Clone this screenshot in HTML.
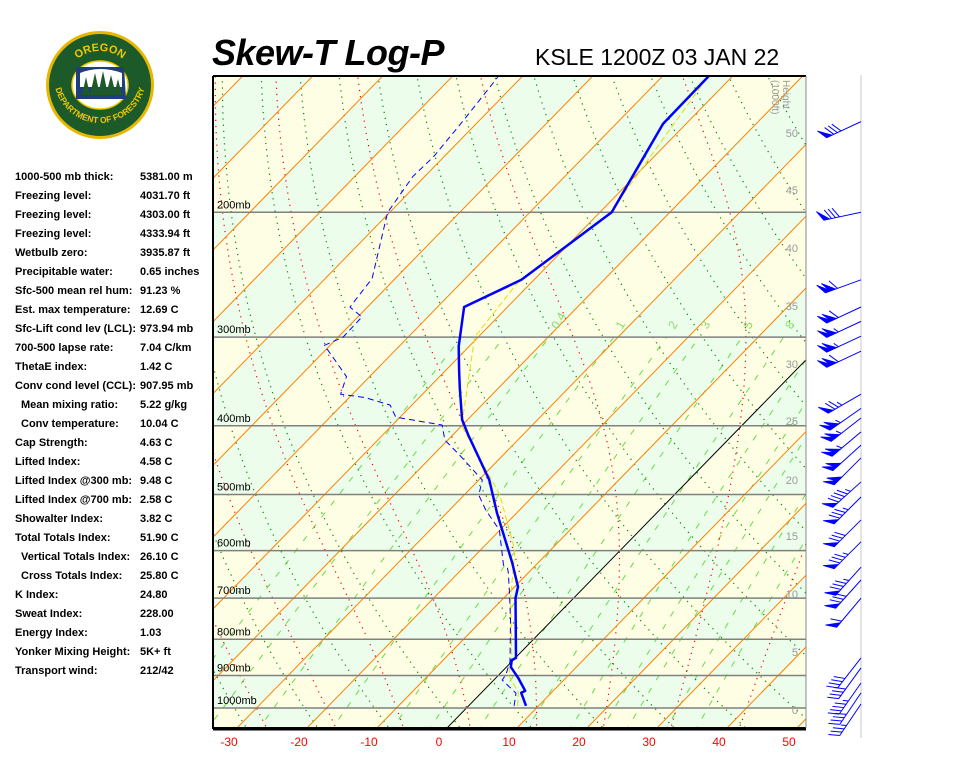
<!DOCTYPE html>
<html><head><meta charset="utf-8">
<style>
body{margin:0;background:#fff;width:960px;height:768px;overflow:hidden;position:relative;font-family:"Liberation Sans",Arial,sans-serif}
.tbl{position:absolute;left:15px;top:171px;font-size:11px;font-weight:bold;color:#000}
.row{position:absolute;white-space:nowrap;height:19px;width:200px}
.row .l{position:absolute;left:0}
.row .v{position:absolute;left:125px}
</style></head><body>
<svg width="120" height="120" style="position:absolute;left:40px;top:25px" viewBox="0 0 120 120">
<defs><path id="arcTop" d="M24,62 A36,36 0 0 1 96,62"/><path id="arcBot" d="M14,52 A46,46 0 0 0 106,52"/></defs>
<circle cx="60" cy="60" r="54" fill="#e8b800"/>
<circle cx="60" cy="60" r="51" fill="#1d5a2a"/>
<text font-size="11" font-weight="bold" fill="#f0c800" font-family="Liberation Sans,sans-serif"><textPath href="#arcTop" startOffset="50%" text-anchor="middle">OREGON</textPath></text>
<text font-size="8.5" font-weight="bold" fill="#f0c800" font-family="Liberation Sans,sans-serif"><textPath href="#arcBot" startOffset="50%" text-anchor="middle">DEPARTMENT OF FORESTRY</textPath></text>
<ellipse cx="60" cy="60" rx="28" ry="24" fill="#fff" stroke="#f0c800" stroke-width="1.5"/>
<path d="M36,42 L84,42 L86,74 L36,74 Z" fill="#1f3f7a"/>
<path d="M40,48 Q60,40 82,48 L82,62 L40,62Z" fill="#fff"/>
<path d="M42,70 L46,52 L50,70 Z M50,70 L55,48 L60,70Z M58,70 L63,46 L68,70Z M66,70 L71,50 L76,70Z M74,70 L78,54 L82,70Z" fill="#1e5a28"/>
</svg>
<div style="position:absolute;left:212px;top:32px;font-size:36px;font-weight:bold;font-style:italic;letter-spacing:-0.5px">Skew-T Log-P</div>
<div style="position:absolute;left:535px;top:44px;font-size:23px">KSLE 1200Z 03 JAN 22</div>
<div class="tbl" id="tbl"></div>
<svg id="ch" width="960" height="768" style="position:absolute;left:0;top:0"></svg>
<script>
const idxLabels=["1000-500 mb thick:","Freezing level:","Freezing level:","Freezing level:","Wetbulb zero:","Precipitable water:","Sfc-500 mean rel hum:","Est. max temperature:","Sfc-Lift cond lev (LCL):","700-500 lapse rate:","ThetaE index:","Conv cond level (CCL):"," Mean mixing ratio:"," Conv temperature:","Cap Strength:","Lifted Index:","Lifted Index @300 mb:","Lifted Index @700 mb:","Showalter Index:","Total Totals Index:"," Vertical Totals Index:"," Cross Totals Index:","K Index:","Sweat Index:","Energy Index:","Yonker Mixing Height:","Transport wind:"];
const idxValues=["5381.00 m","4031.70 ft","4303.00 ft","4333.94 ft","3935.87 ft","0.65 inches","91.23 %","12.69 C","973.94 mb","7.04 C/km","1.42 C","907.95 mb","5.22 g/kg","10.04 C","4.63 C","4.58 C","9.48 C","2.58 C","3.82 C","51.90 C","26.10 C","25.80 C","24.80","228.00","1.03","5K+ ft","212/42"];
// sounding data
const tempP=[993,952,946,907,875,856,850,700,675,624,531,477,412,392,354,334,309,272,249,200,150,128];
const tempT=[8.2,5.7,6.0,3.2,0.6,-0.2,0.1,-8.3,-9.5,-13.7,-22.8,-28.5,-37.8,-40.8,-45.5,-48.1,-51.5,-56.2,-51.8,-48.3,-53.3,-53.4];
const dewP=[993,953,913,898,861,751,688,644,634,629,561,526,501,477,440,419,399,389,374,365,361,341,308,300,281,272,248,207,200,178,167,148,129];
const dewT=[6.5,5.0,1.2,1.0,-0.2,-6.0,-9.9,-12.9,-13.7,-14.6,-20.1,-24.8,-27.9,-29.5,-36.2,-40.4,-42.9,-50.6,-53.1,-57.7,-61.7,-63.3,-70.8,-69.3,-69.4,-72.5,-73.3,-79.2,-80.3,-81.7,-81.5,-82.3,-83.4];
const wbP=[993,950,900,850,700,600,500,400,300,250,200,128];
const wbT=[7.0,5.2,1.5,-0.5,-9,-15,-25,-40,-50.5,-52,-48.5,-53.5];
const windP=[149,200,249,272,285,299,314,361,378,390,408,426,444,480,504,543,583,633,660,700,850,878,922,952,987];
const windDir=[245,258,250,245,245,245,245,240,235,232,230,228,225,228,225,225,225,222,222,220,218,216,215,214,214];
const windSpd=[80,80,110,110,105,105,110,75,105,105,105,100,100,95,85,80,85,85,80,60,40,40,45,40,35];
const pLevels=[1000,900,800,700,600,500,400,300,200];
const tempTicks=[-30,-20,-10,0,10,20,30,40,50];
const heightTicks=[0,5,10,15,20,25,30,35,40,45,50];
const heightY=[710,652,594,536,480,421,364,306,248,190,133];
const mixW=[0.1,0.2,0.4,1,2,3,5,8,12,16,20,28,36];
const mixLabels=["0.4","1","2","3","5","8"];
const mixLabelW=[0.4,1,2,3,5,8];

const tb=document.getElementById('tbl');
idxLabels.forEach((l,i)=>{const r=document.createElement('div');r.className='row';r.style.top=(i*19)+'px';


const a=document.createElement('span');a.className='l';a.textContent=l.trim();if(l[0]===' ')a.style.left='6px';
const b=document.createElement('span');b.className='v';b.textContent=idxValues[i];r.appendChild(a);r.appendChild(b);tb.appendChild(r);});

const NS='http://www.w3.org/2000/svg';
const svg=document.getElementById('ch');
const L=213,R=806,T0=76,B=728;
function Y(p){return 708+308*Math.log(p/1000);}
function X(t,p){return 447+7*t+(B-Y(p))*0.975;}
function el(tag,attrs,parent){const e=document.createElementNS(NS,tag);for(const k in attrs)e.setAttribute(k,attrs[k]);(parent||svg).appendChild(e);return e;}
const defs=el('defs',{});const cp=el('clipPath',{id:'clip'},defs);el('rect',{x:L,y:T0,width:R-L,height:B-T0},cp);
const g=el('g',{'clip-path':'url(#clip)'});


const rows=[1100,1000,900,800,700,600,500,400,300,200,100];
for(let r=0;r<rows.length-1;r++){const p1=rows[r],p2=rows[r+1];
 for(let k=-22;k<8;k++){const t1=k*10,t2=t1+10;
  const pts=[[X(t1,p1),Y(p1)],[X(t2,p1),Y(p1)],[X(t2,p2),Y(p2)],[X(t1,p2),Y(p2)]].map(a=>a.join(',')).join(' ');
  const c=el('polygon',{points:pts,fill:((k+r)%2!==0)?'#ecfdec':'#fefee4'},g);
  
  }}
function poly(pts,attrs,name){const e=el('polyline',Object.assign({points:pts.map(a=>a[0].toFixed(1)+','+a[1].toFixed(1)).join(' '),fill:'none'},attrs),g);
 
 return e;}
function tdFromW(w,p){const e=w*p/(622+w);const l=Math.log(e/6.112);return 243.5*l/(17.67-l);}
mixW.forEach(w=>{const pts=[];for(let p=1080;p>=300;p-=10)pts.push([X(tdFromW(w,p),p),Y(p)]);poly(pts,{stroke:'#66dd44','stroke-width':1,'stroke-dasharray':'6,9'},'mixing-ratio-line');});
for(let th=230;th<=480;th+=10){const pts=[];for(let p=1080;p>=120;p-=10){const t=th*Math.pow(p/1000,0.2857)-273.15;pts.push([X(t,p),Y(p)]);}poly(pts,{stroke:'#008800','stroke-width':1.2,'stroke-dasharray':'1.2,5'},'dry-adiabat');}
function es(tc){return 6.112*Math.exp(17.67*tc/(tc+243.5));}
function dTdp(Tk,p){const tc=Tk-273.15;const e=es(tc);const rs=0.622*e/(p-e);return (287*Tk+2.5e6*rs)/(p*(1005+2.5e6*2.5e6*rs*0.622/(287*Tk*Tk)));}
for(let t0=-40;t0<=50;t0+=10){let Tk=t0+273.15;const up=[];for(let p=1000;p>=120;p-=2){if(p%10===0)up.push([X(Tk-273.15,p),Y(p)]);Tk-=dTdp(Tk,p)*2;}
 Tk=t0+273.15;const dn=[];for(let p=1000;p<=1080;p+=2){if(p%10===0)dn.unshift([X(Tk-273.15,p),Y(p)]);Tk+=dTdp(Tk,p)*2;}
 poly(dn.concat(up),{stroke:'#ff0000','stroke-width':1.2,'stroke-dasharray':'1.2,5'},'moist-adiabat');}
for(let t=-150;t<=60;t+=10){const e=el('line',{x1:X(t,1100),y1:Y(1100),x2:X(t,100),y2:Y(100),stroke:t===0?'#000':'#ff8000','stroke-width':1},g);
 
 }
pLevels.forEach(p=>{const e=el('line',{x1:L,x2:R,y1:Y(p),y2:Y(p),stroke:'#808080','stroke-width':1.5},g);
 
 
 const t=el('text',{x:217,y:Y(p)-4,'font-size':11,fill:'#000'},g);t.textContent=p+'mb';
 
 });
mixLabelW.forEach((w,i)=>{const p=293;const x=X(tdFromW(w,p),p);const t=el('text',{x:0,y:0,'font-size':12,fill:'#88dd66',transform:`translate(${x+3},${Y(p)}) rotate(-60)`},g);t.textContent=mixLabels[i];
 
 });
heightTicks.forEach((h,i)=>{const t=el('text',{x:798,y:heightY[i]+4,'font-size':11,fill:'#999','text-anchor':'end'},g);t.textContent=h;
 
 });
const ht=el('text',{x:0,y:0,'font-size':10,fill:'#999',transform:'translate(783,80) rotate(90)'},g);ht.textContent='Height';


const ht2=el('text',{x:0,y:0,'font-size':10,fill:'#999',transform:'translate(772,80) rotate(90)'},g);ht2.textContent='(1000ft)';


poly(wbP.map((p,i)=>[X(wbT[i],p),Y(p)]),{stroke:'#e0e000','stroke-width':1,'stroke-dasharray':'6,3'},'wetbulb-line');
poly(dewP.map((p,i)=>[X(dewT[i],p),Y(p)]),{stroke:'#0000ff','stroke-width':1,'stroke-dasharray':'6,4'},'dewpoint-line');
poly(tempP.map((p,i)=>[X(tempT[i],p),Y(p)]),{stroke:'#0000ff','stroke-width':2.5,'stroke-linejoin':'round'},'temperature-line');
const fr=el('path',{d:`M${L},${T0} H${R} M${L},${T0} V${B} H${R}`,stroke:'#000','stroke-width':2,fill:'none'});


el('line',{x1:L,x2:R,y1:B+1,y2:B+1,stroke:'#000','stroke-width':3});
el('line',{x1:R,x2:R,y1:T0,y2:B,stroke:'#888','stroke-width':1});
tempTicks.forEach(t=>{const x=447+7*t;const e=el('text',{x:x-8,y:746,'font-size':12,fill:'#ff0000','text-anchor':'middle'});e.textContent=t;
 
 });
// wind barbs
el('line',{x1:861,x2:861,y1:75,y2:738,stroke:'#e4e4e4','stroke-width':2});
windP.forEach((p,i)=>{const ax=861,ay=Y(p);const d=windDir[i]*Math.PI/180;const ux=Math.sin(d),uy=-Math.cos(d);
 const len=38;const tx=ax+ux*len,ty=ay+uy*len;
 const wg=el('g',{});
 
 
 el('line',{x1:ax,y1:ay,x2:tx,y2:ty,stroke:'#0000ff','stroke-width':1},wg);
 let bx=uy,by=-ux;if(by>0){bx=-bx;by=-by;}
 const vx=ux*5.5+bx*10,vy=uy*5.5+by*10;
 let s=windSpd[i];let pos=0;
 while(s>=50){const x0=tx-ux*pos,y0=ty-uy*pos;const x1=tx-ux*(pos+6),y1=ty-uy*(pos+6);
  el('polygon',{points:`${x0},${y0} ${x0+vx},${y0+vy} ${x1},${y1}`,fill:'#0000ff',stroke:'#0000ff','stroke-width':0.8},wg);pos+=5;s-=50;}
 if(pos>0)pos+=3;
 while(s>=10){const x0=tx-ux*pos,y0=ty-uy*pos;el('line',{x1:x0,y1:y0,x2:x0+vx,y2:y0+vy,stroke:'#0000ff','stroke-width':1},wg);pos+=4;s-=10;}
 if(s>=5){if(pos===0)pos=4;const x0=tx-ux*pos,y0=ty-uy*pos;el('line',{x1:x0,y1:y0,x2:x0+vx/2,y2:y0+vy/2,stroke:'#0000ff','stroke-width':1},wg);}
});
</script>
</body></html>
